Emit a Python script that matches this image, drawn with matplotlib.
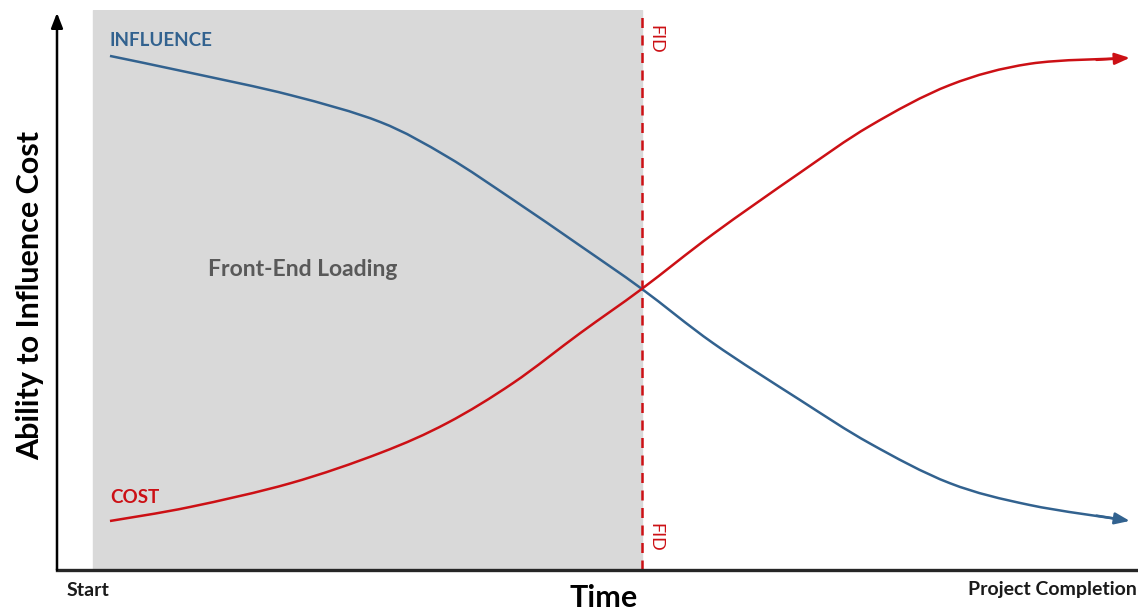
import matplotlib.pyplot as plt
from matplotlib.path import Path
from matplotlib.patches import PathPatch

# time axis in % of project duration, values in % of full scale
time_pts = [4.9, 12.3, 21.6, 29.9, 36.1, 42.2, 48.4, 54.1, 60.7, 68.7, 75.2,
            82.6, 90.0, 98.8]
influence = [91.8, 88.8, 84.8, 80.0, 73.8, 66.1, 57.9, 50.2, 40.5, 30.4, 22.6,
             15.5, 11.6, 8.9]
cost = [8.75, 11.25, 15.5, 20.9, 26.25, 33.4, 42.3, 50.2, 60.0, 70.9, 79.3,
        86.6, 90.4, 91.4]
fel_start, fid_time = 3.3, 54.1

blue = "#32628f"
red = "#cc1015"
font = ["Lato", "DejaVu Sans"]


def smooth_path(xs, ys):
    # Catmull-Rom through the read points, drawn as cubic Bezier segments
    pts = list(zip(xs, ys))
    verts = [pts[0]]
    codes = [Path.MOVETO]
    for i in range(len(pts) - 1):
        p0 = pts[i - 1] if i > 0 else pts[i]
        p1, p2 = pts[i], pts[i + 1]
        p3 = pts[i + 2] if i + 2 < len(pts) else pts[i + 1]
        c1 = (p1[0] + (p2[0] - p0[0]) / 6, p1[1] + (p2[1] - p0[1]) / 6)
        c2 = (p2[0] - (p3[0] - p1[0]) / 6, p2[1] - (p3[1] - p1[1]) / 6)
        verts += [c1, c2, p2]
        codes += [Path.CURVE4] * 3
    return Path(verts, codes)


fig = plt.figure(figsize=(11.38, 6.11), dpi=100)
ax = fig.add_axes([57 / 1138, 41 / 611, 1081 / 1138, 560 / 611])
ax.set_xlim(0, 100)
ax.set_ylim(0, 100)
ax.axis("off")

# front-end loading shading and FID marker
ax.axvspan(fel_start, fid_time, color="#d9d9d9", zorder=0)
ax.axvline(fid_time, color=red, lw=1.8, ls=(0, (4, 3)), zorder=1)

# curves with arrow heads at the end
for vals, col in [(influence, blue), (cost, red)]:
    ax.add_patch(PathPatch(smooth_path(time_pts, vals), fill=False,
                           edgecolor=col, lw=1.8, zorder=3))
    dx = time_pts[-1] - time_pts[-2]
    dy = vals[-1] - vals[-2]
    ax.annotate("", xy=(time_pts[-1] + 0.05 * dx, vals[-1] + 0.05 * dy),
                xytext=(time_pts[-1] - 0.3 * dx, vals[-1] - 0.3 * dy),
                arrowprops=dict(arrowstyle="-|>,head_length=0.9,head_width=0.35",
                                color=col, lw=1.8, shrinkA=0, shrinkB=0),
                zorder=3)

# axes lines
ax.annotate("", xy=(0, 0.995), xytext=(0, 0), xycoords="axes fraction",
            arrowprops=dict(arrowstyle="-|>,head_length=0.9,head_width=0.35",
                            color="black", lw=1.8, shrinkA=0, shrinkB=0),
            annotation_clip=False)
ax.plot([0, 100], [0, 0], color="#262626", lw=2.4, clip_on=False)

# labels
ax.text(4.9, 93.6, "INFLUENCE", color=blue, fontsize=13.5, fontweight="bold",
        family=font, va="baseline")
ax.text(4.9, 12.0, "COST", color=red, fontsize=13.5, fontweight="bold",
        family=font, va="baseline")
ax.text(22.7, 53.6, "Front-End Loading", color="#595959", fontsize=16.5,
        fontweight="bold", family=font, ha="center", va="center")
ax.text(fid_time + 0.5, 97.3, "FID", color=red, fontsize=13, rotation=-90,
        family=font, va="top", ha="left")
ax.text(fid_time + 0.5, 8.4, "FID", color=red, fontsize=13, rotation=-90,
        family=font, va="top", ha="left")

fig.text(30 / 1138, 1 - 295 / 611, "Ability to Influence Cost", rotation=90,
         fontsize=22, fontweight="bold", family=font, ha="center", va="center")
fig.text(604 / 1138, 1 - 598 / 611, "Time", fontsize=22, fontweight="bold",
         family=font, ha="center", va="center")
fig.text(88 / 1138, 1 - 590 / 611, "Start", fontsize=14, fontweight="bold",
         family=font, ha="center", va="center", color="#1a1a1a")
fig.text(1137 / 1138, 1 - 590 / 611, "Project Completion", fontsize=14,
         fontweight="bold", family=font, ha="right", va="center", color="#1a1a1a")

fig.savefig("out.png", dpi=100)
